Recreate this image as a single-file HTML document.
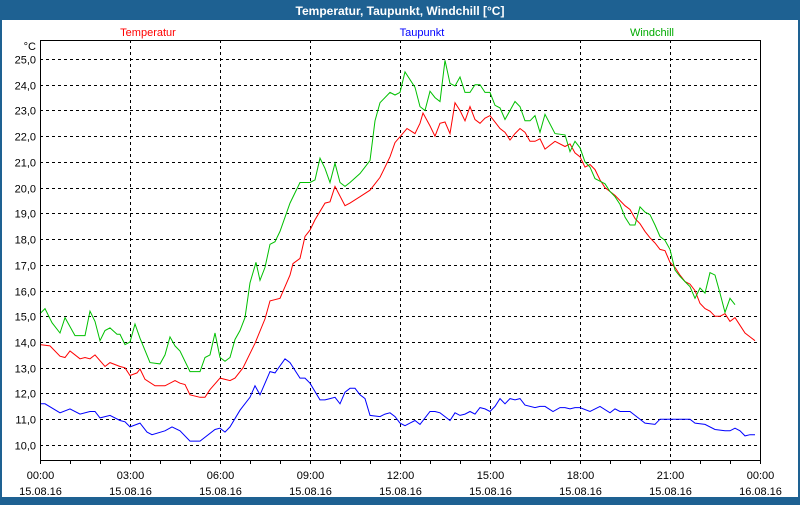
<!DOCTYPE html>
<html><head><meta charset="utf-8"><style>
html,body{margin:0;padding:0;}
body{width:800px;height:500px;overflow:hidden;background:#1e6192;font-family:"Liberation Sans",sans-serif;}
#wrap{position:absolute;left:0;top:0;width:800px;height:500px;}
</style></head><body>
<div id="wrap">
<svg id="chart" width="800" height="500" xmlns="http://www.w3.org/2000/svg">
<rect x="0" y="0" width="800" height="500" fill="#1e6192"/>
<rect x="2" y="20" width="796" height="477" fill="#ffffff"/>
<text x="400" y="15" text-anchor="middle" font-size="12" font-weight="bold" fill="#ffffff">Temperatur, Taupunkt, Windchill [°C]</text>
<text x="148" y="36" text-anchor="middle" font-size="11" fill="#ff0000">Temperatur</text>
<text x="422" y="36" text-anchor="middle" font-size="11" fill="#0000ff">Taupunkt</text>
<text x="652" y="36" text-anchor="middle" font-size="11" fill="#00aa00">Windchill</text>
<text x="36" y="50" text-anchor="end" font-size="11" fill="#000">°C</text>
<g id="grid"></g><g id="series"></g><g id="axes"></g>
</svg>
</div>
<script>
const yTicks=[10,11,12,13,14,15,16,17,18,19,20,21,22,23,24,25];
const xTickHours=[0,3,6,9,12,15,18,21,24];
const xTimeLabels=["00:00","03:00","06:00","09:00","12:00","15:00","18:00","21:00","00:00"];
const xDateLabels=["15.08.16","15.08.16","15.08.16","15.08.16","15.08.16","15.08.16","15.08.16","15.08.16","16.08.16"];
// minutes since 00:00
const tempMin=[0,20,40,50,60,80,90,100,110,130,140,160,170,180,194,200,210,230,250,270,280,290,300,320,330,340,360,380,390,406,430,450,460,480,500,506,520,530,540,550,570,580,590,610,620,640,660,680,700,710,734,750,760,766,780,790,800,810,820,830,840,850,860,870,880,890,900,920,930,940,950,960,970,980,990,1000,1010,1030,1050,1060,1070,1080,1090,1100,1110,1120,1130,1150,1170,1180,1190,1200,1210,1220,1230,1240,1250,1260,1270,1280,1290,1300,1310,1320,1330,1340,1350,1360,1370,1380,1390,1400,1410,1420,1430];
const tempVal=[13.9,13.85,13.45,13.4,13.65,13.35,13.4,13.35,13.5,13.05,13.2,13.05,13.0,12.7,12.8,12.95,12.55,12.3,12.3,12.5,12.4,12.35,11.95,11.85,11.85,12.15,12.6,12.5,12.6,13.0,13.95,14.9,15.6,15.7,16.6,17.05,17.25,18.1,18.35,18.75,19.4,19.45,20.05,19.3,19.4,19.65,19.9,20.4,21.2,21.75,22.3,22.1,22.5,22.9,22.4,22.0,22.5,22.55,22.1,23.3,23.0,22.6,23.15,22.65,22.5,22.7,22.8,22.3,22.15,21.85,22.1,22.3,22.15,21.8,21.8,21.9,21.5,21.8,21.6,21.7,21.35,21.2,20.8,20.9,20.7,20.3,20.0,19.7,19.3,19.15,18.8,18.6,18.3,18.05,17.85,17.6,17.55,17.1,16.9,16.6,16.35,16.25,16.0,15.5,15.3,15.2,15.0,15.0,15.1,14.8,14.95,14.65,14.35,14.2,14.05];
const chillMin=[0,10,24,40,50,70,90,100,110,120,130,140,154,160,170,180,190,200,220,240,250,260,270,280,300,320,330,340,350,360,370,380,390,400,410,420,432,440,450,460,470,480,500,520,540,550,560,570,580,590,600,610,620,640,660,670,680,700,710,720,730,750,760,770,780,790,800,810,820,830,840,850,860,870,880,890,900,910,920,930,940,950,960,970,980,990,1000,1010,1030,1050,1060,1070,1080,1090,1100,1110,1120,1130,1140,1150,1160,1170,1180,1190,1200,1210,1220,1230,1240,1250,1260,1270,1280,1290,1300,1310,1320,1330,1340,1350,1360,1370,1380,1390,1400,1410,1420,1430];
const chillVal=[15.1,15.3,14.75,14.35,14.95,14.25,14.25,15.2,14.8,14.05,14.45,14.55,14.3,14.3,13.9,14.0,14.7,14.15,13.2,13.15,13.5,14.2,13.85,13.65,12.85,12.85,13.4,13.5,14.35,13.4,13.25,13.4,14.1,14.45,14.95,16.3,17.1,16.4,16.9,17.8,17.9,18.3,19.4,20.2,20.2,20.3,21.15,20.75,20.2,20.95,20.2,20.05,20.2,20.55,21.05,22.6,23.3,23.7,23.6,23.7,24.5,23.9,23.15,23.0,23.75,23.5,23.35,24.95,24.05,23.95,24.3,23.7,23.7,24.0,24.0,23.7,23.7,23.2,23.1,22.65,23.0,23.35,23.15,22.6,22.6,22.8,22.15,22.85,22.1,22.05,21.4,21.8,21.55,21.0,20.8,20.35,20.25,20.15,19.85,19.65,19.35,18.85,18.55,18.55,19.25,19.05,18.95,18.55,18.1,17.95,17.6,16.8,16.55,16.35,16.15,15.7,16.1,15.9,16.7,16.6,15.9,15.15,15.7,15.45];
const dewMin=[0,10,40,60,80,100,110,120,140,160,170,180,200,214,224,250,264,280,300,320,350,360,370,380,400,420,430,440,460,470,490,500,520,530,540,560,570,580,590,600,610,620,630,640,650,660,680,690,700,710,720,730,740,750,760,770,780,790,800,810,820,830,840,850,860,870,880,890,900,910,920,930,940,950,960,970,990,1000,1010,1026,1040,1050,1060,1070,1080,1100,1120,1140,1150,1160,1180,1190,1210,1230,1240,1300,1310,1330,1350,1370,1380,1390,1400,1410,1420,1430];
const dewVal=[11.6,11.6,11.25,11.4,11.2,11.3,11.3,11.05,11.15,10.95,10.9,10.7,10.85,10.5,10.4,10.55,10.7,10.55,10.15,10.15,10.6,10.65,10.5,10.7,11.35,11.85,12.3,11.95,12.85,12.8,13.35,13.2,12.6,12.6,12.4,11.75,11.75,11.8,11.85,11.6,12.05,12.2,12.2,11.95,11.8,11.15,11.1,11.2,11.25,11.1,10.85,10.75,10.85,10.95,10.8,11.05,11.3,11.3,11.25,11.1,10.95,11.25,11.15,11.2,11.3,11.2,11.45,11.4,11.3,11.5,11.8,11.6,11.8,11.75,11.8,11.55,11.45,11.5,11.5,11.3,11.45,11.45,11.4,11.45,11.45,11.3,11.5,11.25,11.4,11.3,11.3,11.15,10.85,10.8,11.0,11.0,10.85,10.8,10.6,10.55,10.55,10.65,10.55,10.35,10.4,10.4];

const NS="http://www.w3.org/2000/svg";
const L=40,R=760,T=40,B=460;
const yAt=v=>59+(25-v)*25.73;
const xAt=m=>L+(m/1440)*(R-L);
function mk(tag,attrs,parent){const e=document.createElementNS(NS,tag);for(const k in attrs)e.setAttribute(k,attrs[k]);parent.appendChild(e);return e;}
const grid=document.getElementById('grid'),axes=document.getElementById('axes'),series=document.getElementById('series');
yTicks.forEach(v=>{
  const y=Math.round(yAt(v))+0.5;
  const g=mk('line',{x1:L,x2:R,y1:y,y2:y,stroke:'#000','stroke-width':1,'stroke-dasharray':'3,3'},grid);
  
  
  const t=mk('text',{x:36,y:y+4,'text-anchor':'end','font-size':11,fill:'#000'},axes);
  t.textContent=v.toFixed(1).replace('.',',');
  
  
});
for(let h=0;h<=24;h++){
  const x=Math.round(xAt(h*60))+0.5;
  const tk=mk('line',{x1:x,x2:x,y1:B,y2:B+4,stroke:'#000'},axes);
  
  
}
xTickHours.forEach((h,i)=>{
  const x=Math.round(xAt(h*60))+0.5;
  if(h>0&&h<24){const g=mk('line',{x1:x,x2:x,y1:T,y2:B,stroke:'#000','stroke-dasharray':'3,3'},grid);
  
  }
  const t1=mk('text',{x:x,y:479,'text-anchor':'middle','font-size':11,fill:'#000'},axes);
  t1.textContent=xTimeLabels[i];
  
  
  const t2=mk('text',{x:x,y:495,'text-anchor':'middle','font-size':11,fill:'#000'},axes);
  t2.textContent=xDateLabels[i];
  
  
});
const fr=mk('rect',{x:L+0.5,y:T+0.5,width:R-L,height:B-T,fill:'none',stroke:'#000'},axes);


function line(ms,vs,color,name){
  const d=ms.map((m,i)=>(i?'L':'M')+xAt(m).toFixed(1)+','+yAt(vs[i]).toFixed(1)).join('');
  const p=mk('path',{d:d,fill:'none',stroke:color,'stroke-width':1},series);
  
  
}
line(dewMin,dewVal,'#0000ff','taupunkt-line');
line(tempMin,tempVal,'#ff0000','temperatur-line');
line(chillMin,chillVal,'#00c000','windchill-line');
</script>
</body></html>
